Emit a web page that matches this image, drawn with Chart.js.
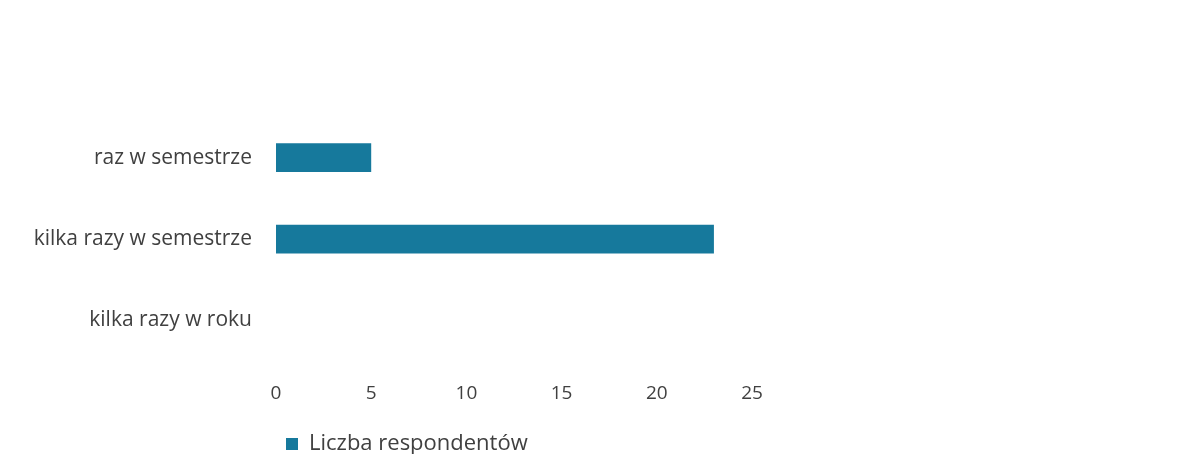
<!DOCTYPE html>
<html>
<head>
<meta charset="utf-8">
<script src="https://cdn.jsdelivr.net/npm/chart.js@4"></script>
<style>
html,body{margin:0;padding:0;background:#fff;}
#wrap{width:1194px;height:454px;}
</style>
</head>
<body>
<div id="wrap"><canvas id="c" width="1194" height="454"></canvas></div>
<script>
const categories = ["raz w semestrze", "kilka razy w semestrze", "kilka razy w roku"];
const respondents = [5, 23, 0];
const seriesName = "Liczba respondentów";
const xTicks = [0, 5, 10, 15, 20, 25];

const textColor = '#404040';
const barColor = '#16799c';

const legendShift = {
  id: 'legendShift',
  beforeDraw(chart) {
    const lg = chart.legend;
    if (lg) {
      const w = lg.right - lg.left;
      lg.left = 278;
      lg.right = 278 + w;
      lg.top += 7;
      lg.bottom += 7;
    }
  }
};

new Chart(document.getElementById('c'), {
  type: 'bar',
  data: {
    labels: categories,
    datasets: [{
      label: seriesName,
      data: respondents,
      backgroundColor: barColor,
      borderWidth: 0,
      categoryPercentage: 0.8,
      barPercentage: 0.44
    }]
  },
  options: {
    indexAxis: 'y',
    responsive: false,
    animation: false,
    layout: { padding: { top: 117, right: 442, bottom: -4, left: 0 } },
    scales: {
      x: {
        min: 0, max: 25,
        afterBuildTicks(scale) { scale.ticks = xTicks.map(v => ({ value: v })); },
        grid: { display: false },
        border: { display: false },
        ticks: { color: textColor, padding: 13, font: { family: 'Open Sans', size: 19 } }
      },
      y: {
        grid: { display: false },
        border: { display: false },
        afterFit(scale) { scale.width = 276; },
        ticks: { color: textColor, padding: 16, font: { family: 'Open Sans', size: 21 } }
      }
    },
    plugins: {
      tooltip: { enabled: false },
      legend: {
        position: 'bottom',
        align: 'start',
        labels: {
          color: textColor,
          boxWidth: 12,
          boxHeight: 12,
          padding: 8,
          font: { family: 'Open Sans', size: 22 }
        }
      }
    }
  },
  plugins: [legendShift]
});
</script>
</body>
</html>
